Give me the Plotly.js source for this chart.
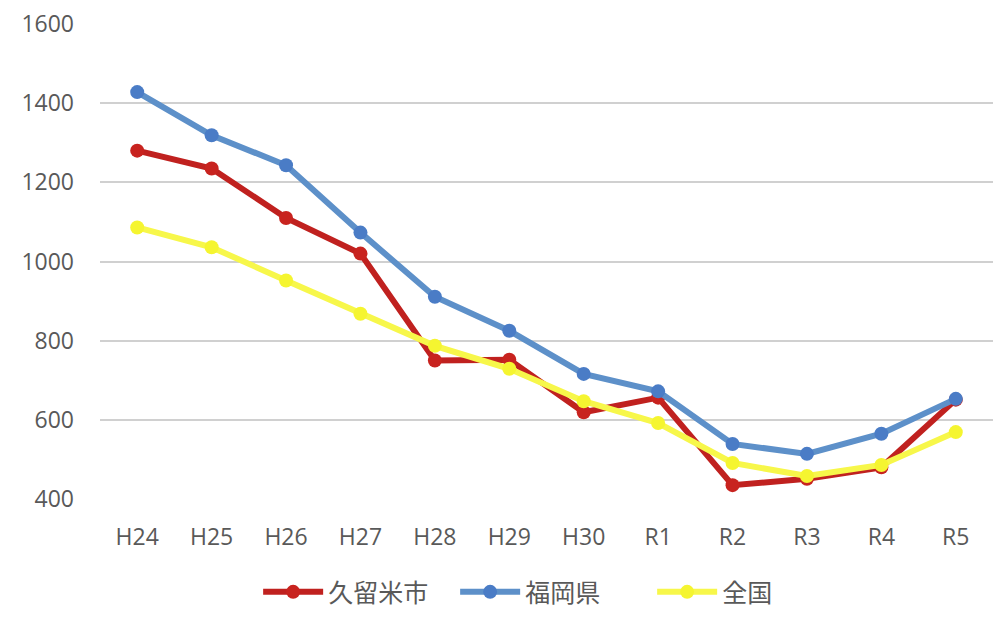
<!DOCTYPE html>
<html><head><meta charset="utf-8">
<script src="https://cdn.plot.ly/plotly-3.0.1.min.js"></script>
<style>html,body{margin:0;padding:0;background:#fff}#chart{width:1000px;height:638px}</style>
</head><body><div id="chart"></div>
<script>
const categories = ["H24","H25","H26","H27","H28","H29","H30","R1","R2","R3","R4","R5"];
const kurume = [1280,1235,1110,1020,750,752,619,656,435,451,480,651];
const fukuoka = [1428,1319,1243,1073,911,825,716,672,539,514,565,653];
const zenkoku = [1086,1036,952,868,787,729,647,592,491,458,486,569];
const seriesNames = ["久留米市","福岡県","全国"];

const mk = (y, name, lc, mc) => ({
  x: categories, y: y, name: name, type: "scatter", mode: "lines+markers",
  line: {color: lc, width: 6}, marker: {color: mc, size: 14}
});
const data = [
  mk(kurume, seriesNames[0], "#c0211f", "#c8231f"),
  mk(fukuoka, seriesNames[1], "#5d90c9", "#4a7cc6"),
  mk(zenkoku, seriesNames[2], "#f7f74a", "#f5f530")
];
const layout = {
  width: 1000, height: 638,
  margin: {l: 100, r: 7, t: 24, b: 139},
  paper_bgcolor: "#fff", plot_bgcolor: "#fff",
  font: {family: "'Open Sans', 'Noto Sans CJK JP', sans-serif", color: "#595959", size: 23},
  xaxis: {type: "category", range: [-0.5, 11.5], showgrid: false, zeroline: false,
          showline: false, ticks: "", ticklabelstandoff: 22, tickfont: {size: 23, color: "#595959"}},
  yaxis: {range: [400, 1600], dtick: 200, showgrid: true, gridcolor: "#d0d0d0", gridwidth: 2,
          zeroline: false, showline: false, ticks: "", ticklabelstandoff: 25,
          tickfont: {size: 23, color: "#595959"}},
  showlegend: true,
  legend: {orientation: "h", x: 0.508, xanchor: "center", y: -0.196, yanchor: "middle",
           itemwidth: 60, entrywidth: 122, entrywidthmode: "pixels",
           font: {size: 25, color: "#595959", family: "'Noto Sans CJK JP', sans-serif"}},
  hovermode: false
};
Plotly.newPlot("chart", data, layout, {displayModeBar: false, staticPlot: true});
</script></body></html>
